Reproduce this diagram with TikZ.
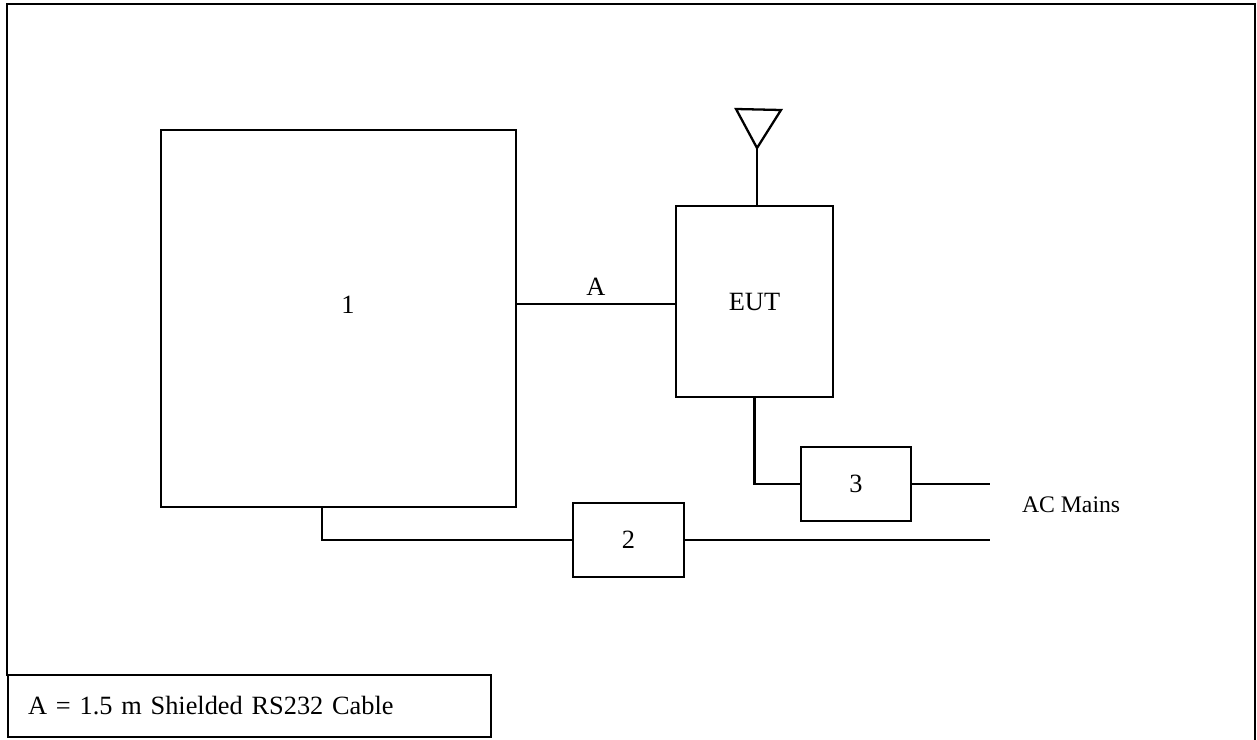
\documentclass[tikz,border=0pt]{standalone}
\usepackage{fontspec}
\setmainfont{Liberation Serif}
\usetikzlibrary{positioning}

\begin{document}
\begin{tikzpicture}[
  x=0.02cm, y=-0.02cm,
  line width=1.3pt,
  font=\fontsize{15}{18}\selectfont,
  unit/.style={rectangle, draw, line width=1.3pt, inner sep=0pt},
  small/.style={font=\fontsize{13.5}{16}\selectfont}
]
\useasboundingbox (0,0) rectangle (1257,740);

% frame
\draw (7,676) -- (7,4) -- (1255,4) -- (1255,740);

\node[unit, minimum width=7.1cm, minimum height=7.54cm] (box1) at (338.5,318.5) {};
\node (one) at (348,305) {1};
\node[unit, minimum width=3.14cm, minimum height=3.82cm] (eut) at (754.5,301.5) {EUT};
\node[unit, minimum width=2.2cm, minimum height=1.48cm] (box3) at (856,484) {3};
\node[unit, minimum width=2.22cm, minimum height=1.48cm] (box2) at (628.5,540) {2};
\node[small, anchor=west] (mains) at (1015,505) {AC Mains};

\coordinate (mains3) at (990,484);
\coordinate (mains2) at (box2.east -| mains3);
\coordinate (ant) at (757,148);
\coordinate (cabA) at (box1.east |- 0,304);

% antenna
\draw[line join=miter] (736,109) -- (781,110) -- (ant) -- cycle;
\draw (ant) -- (ant |- eut.north);

% cables
\draw (cabA) -- node[above=1pt] (lblA) {A} (cabA -| eut.west);
\draw (eut.south) |- (box3.west);
\draw (box3.east) -- (mains3);
\draw ([xshift=-0.33cm]box1.south) |- (box2.west);
\draw (box2.east) -- (mains2);

% legend
\node[unit, anchor=south west, minimum height=1.24cm, inner xsep=0.4cm,
      text width=8.86cm, align=left] (legend) at (7,738)
  {A = 1.5 m Shielded RS232 Cable};

\end{tikzpicture}
\end{document}
